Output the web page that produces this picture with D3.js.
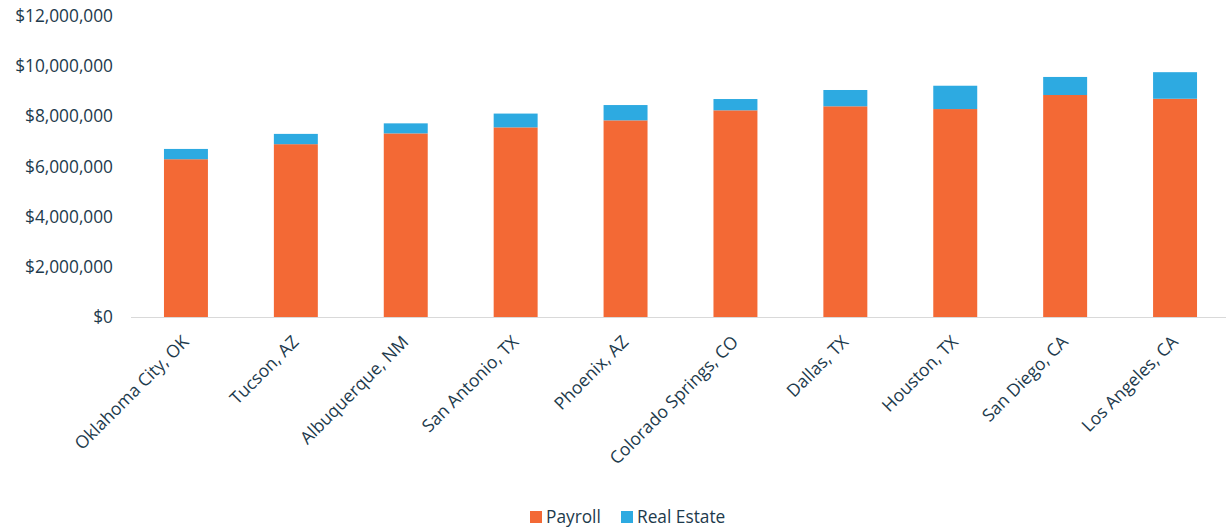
<!DOCTYPE html>
<html><head><meta charset="utf-8">
<script src="https://cdn.jsdelivr.net/npm/d3@7"></script>
<style>
body{margin:0;background:#fff;}
text{font-family:"Open Sans","Noto Sans",sans-serif;fill:#1d3a4c;}
</style></head>
<body><svg id="c" width="1226" height="530"></svg>
<script>
const categories = ["Oklahoma City, OK","Tucson, AZ","Albuquerque, NM","San Antonio, TX","Phoenix, AZ","Colorado Springs, CO","Dallas, TX","Houston, TX","San Diego, CA","Los Angeles, CA"];
const payroll    = [6290000,6890000,7320000,7560000,7840000,8240000,8400000,8290000,8850000,8700000];
const realEstate = [410000,410000,400000,550000,610000,450000,650000,930000,720000,1060000];
const seriesNames = ["Payroll","Real Estate"];
const seriesColors = ["#F36935","#2DAAE1"];
const yTicks = [0,2000000,4000000,6000000,8000000,10000000,12000000];

const svg = d3.select("#c");
const x = d3.scaleBand().domain(categories).range([131,1230]).paddingInner(0.6).paddingOuter(0.3);
const y = d3.scaleLinear().domain([0,12000000]).range([317,16]);

const data = categories.map((c,i)=>({cat:c, Payroll:payroll[i], "Real Estate":realEstate[i]}));
const stacked = d3.stack().keys(seriesNames)(data);

// y axis labels
const fmt = v => "$" + d3.format(",")(v);
svg.append("g").selectAll("text").data(yTicks).join("text")
  .attr("x",113).attr("y",d=>y(d)).attr("dy","0.35em")
  .attr("text-anchor","end").style("font-size","17.3px").text(fmt);

// bars
svg.append("g").selectAll("g").data(stacked).join("g")
  .attr("fill",(d,i)=>seriesColors[i])
  .selectAll("rect").data(d=>d).join("rect")
  .attr("x",d=>x(d.data.cat)).attr("width",x.bandwidth())
  .attr("y",d=>y(d[1])).attr("height",d=>y(d[0])-y(d[1]));

// x axis line
svg.append("line").attr("x1",131).attr("x2",1226).attr("y1",317.5).attr("y2",317.5)
  .attr("stroke","#d9d9d9").attr("stroke-width",1);

// x labels
svg.append("g").selectAll("text").data(categories).join("text")
  .attr("text-anchor","end").style("font-size","17.5px")
  .attr("transform",d=>`translate(${x(d)+x.bandwidth()/2+4},${343}) rotate(-45)`)
  .text(d=>d);

// legend
const lg = svg.append("g").attr("transform","translate(530,517)");
const items = [{n:seriesNames[0],c:seriesColors[0],x:0},{n:seriesNames[1],c:seriesColors[1],x:91}];
items.forEach(it=>{
  lg.append("rect").attr("x",it.x).attr("y",-6).attr("width",12).attr("height",12).attr("fill",it.c);
  lg.append("text").attr("x",it.x+16).attr("y",0).attr("dy","0.35em").style("font-size","17.3px").text(it.n);
});
</script></body></html>
